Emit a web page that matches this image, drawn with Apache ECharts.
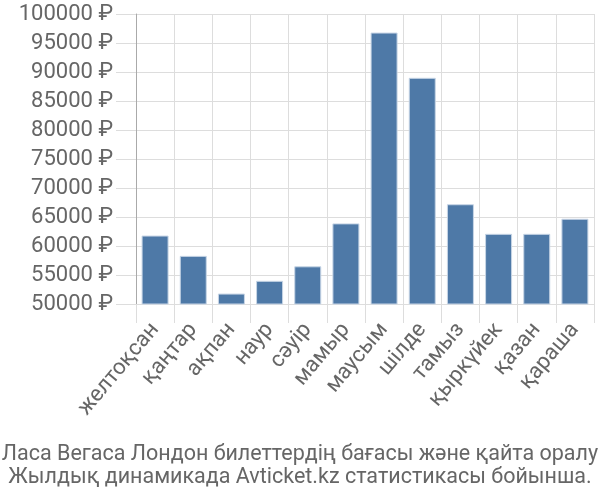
<!DOCTYPE html>
<html><head><meta charset="utf-8">
<script src="https://cdn.jsdelivr.net/npm/echarts@6/dist/echarts.min.js"></script>
<style>html,body{margin:0;padding:0;background:#fff}#c{width:600px;height:500px}</style>
</head><body><div id="c"></div>
<script>
var categories = ['желтоқсан','қаңтар','ақпан','наур','сәуір','мамыр','маусым','шілде','тамыз','қыркүйек','қазан','қараша'];
var prices = [61800, 58300, 51800, 54000, 56500, 63900, 96800, 89000, 67200, 62100, 62100, 64700];
var titleLines = ['Ласа Вегаса Лондон билеттердің бағасы және қайта оралу', 'Жылдық динамикада Avticket.kz статистикасы бойынша.'];
var yMin = 50000, yMax = 100000, yStep = 5000;

var chart = echarts.init(document.getElementById('c'), null, {renderer:'canvas'});
chart.setOption({
  animation: false,
  textStyle: {fontFamily: 'Roboto'},
  title: {
    text: titleLines.join('\n'),
    left: 'center', top: 438,
    textStyle: {fontFamily: 'Roboto', fontSize: 21.5, fontWeight: 'normal', color: '#666', lineHeight: 23}
  },
  grid: {left: 136, right: 6, top: 14, bottom: 196, containLabel: false},
  xAxis: {
    type: 'category', data: categories,
    axisLine: {show: true, lineStyle: {color: '#ddd'}},
    axisTick: {show: true, length: 19, lineStyle: {color: '#ddd'}},
    splitLine: {show: true, lineStyle: {color: '#ddd', width: 1}},
    axisLabel: {rotate: 50, fontSize: 22, color: '#666', margin: 22, interval: 0}
  },
  yAxis: {
    type: 'value', min: yMin, max: yMax, interval: yStep,
    axisLine: {show: true, lineStyle: {color: '#aaa'}},
    axisTick: {show: true, length: 20, lineStyle: {color: '#ddd'}},
    splitLine: {show: true, lineStyle: {color: '#ddd', width: 1}},
    axisLabel: {formatter: function (v) { return v + ' ₽'; }, fontSize: 22, color: '#666', margin: 23}
  },
  series: [{
    type: 'bar', data: prices, barWidth: 27,
    itemStyle: {color: '#4e79a7', borderColor: '#c8d6e6', borderWidth: 1}
  }]
});
</script></body></html>
